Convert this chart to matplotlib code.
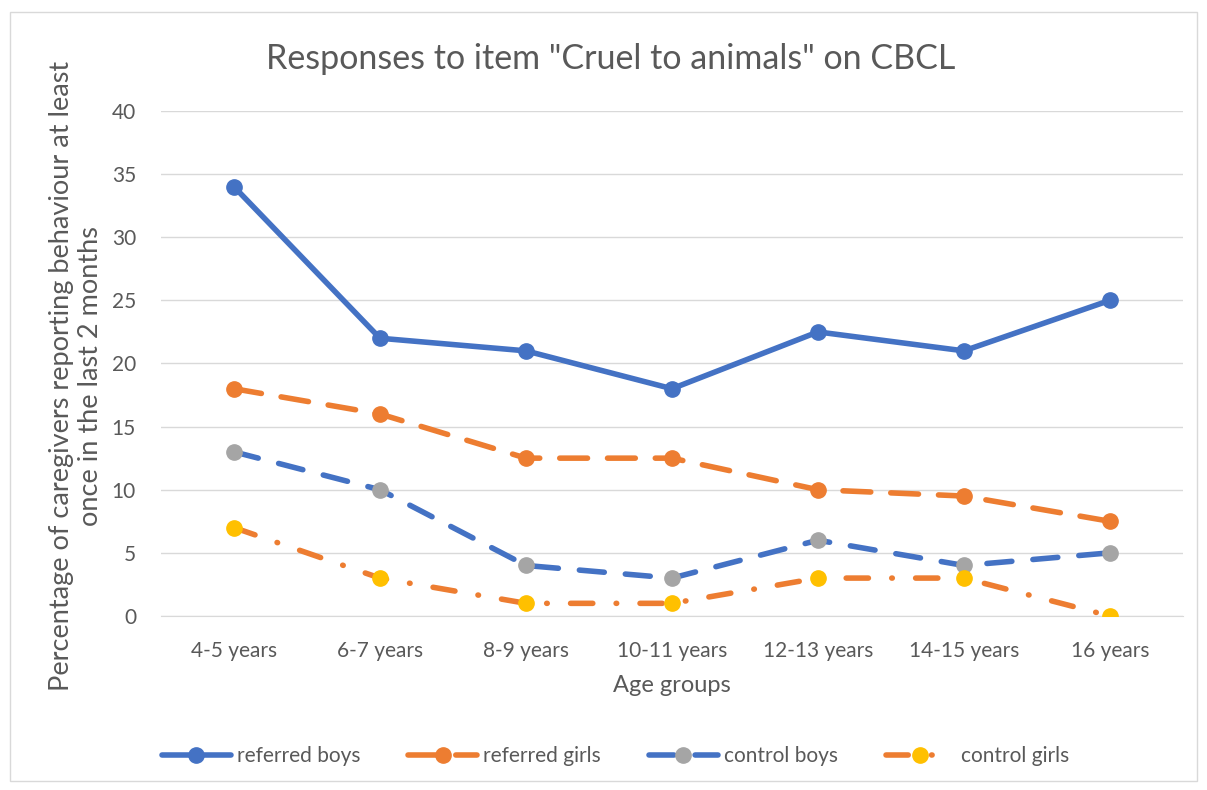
import numpy as np
import matplotlib.pyplot as plt
from matplotlib.patches import Rectangle

plt.rcParams['font.family'] = ['Lato', 'DejaVu Sans']

ages = ['4-5 years', '6-7 years', '8-9 years', '10-11 years', '12-13 years', '14-15 years', '16 years']
referred_boys = [34, 22, 21, 18, 22.5, 21, 25]
referred_girls = [18, 16, 12.5, 12.5, 10, 9.5, 7.5]
control_boys = [13, 10, 4, 3, 6, 4, 5]
control_girls = [7, 3, 1, 1, 3, 3, 0]

blue = '#4472C4'
orange = '#ED7D31'
gray = '#A5A5A5'
yellow = '#FFC000'
txt = '#595959'

fig = plt.figure(figsize=(12.07, 7.9), dpi=100)
ax = fig.add_axes([0.1334, 0.2203, 0.8466, 0.6392])

# chart border like the excel frame
fig.patches.append(Rectangle((0.008, 0.012), 0.984, 0.973, transform=fig.transFigure,
                             fill=False, edgecolor='#D9D9D9', lw=1))

x = np.arange(len(ages))
lw = 4.0
ms = 11

ax.plot(x, referred_boys, color=blue, lw=lw, marker='o', ms=ms,
        mfc=blue, mec=blue, solid_capstyle='round', label='referred boys')
ax.plot(x, referred_girls, color=orange, lw=lw, marker='o', ms=ms,
        mfc=orange, mec=orange, dashes=(5, 3.6), dash_capstyle='round',
        label='referred girls')
ax.plot(x, control_boys, color=blue, lw=lw, marker='o', ms=ms,
        mfc=gray, mec=gray, dashes=(4.5, 3.8), dash_capstyle='round',
        label='control boys')
ax.plot(x, control_girls, color=orange, lw=lw, marker='o', ms=ms,
        mfc=yellow, mec=yellow, dashes=(4, 4.2, 0.1, 4.2), dash_capstyle='round',
        label='control girls')

ax.set_xlim(-0.5, len(ages) - 0.5)
ax.set_ylim(0, 40)
ax.set_yticks(range(0, 41, 5))
ax.set_xticks(x)
ax.set_xticklabels(ages)
ax.tick_params(length=0, labelsize=15, colors=txt)
ax.tick_params(axis='x', pad=18)
ax.tick_params(axis='y', pad=18)
ax.grid(axis='y', color='#D9D9D9', lw=1)
ax.set_axisbelow(True)
for s in ['top', 'right', 'left']:
    ax.spines[s].set_visible(False)
ax.spines['bottom'].set_color('#D9D9D9')
ax.spines['bottom'].set_zorder(0)

ax.set_xlabel('Age groups', fontsize=17, color=txt, labelpad=10)
ax.set_ylabel('Percentage of caregivers reporting behaviour at least\nonce in the last 2 months',
              fontsize=19.5, color=txt, linespacing=1.2)
ax.yaxis.set_label_coords(-0.057, 0.475)
fig.text(0.506, 0.925, 'Responses to item "Cruel to animals" on CBCL',
         ha='center', va='center', fontsize=24.5, color=txt)

leg = fig.legend(loc='center', bbox_to_anchor=(0.51, 0.043), ncol=4, frameon=False,
                 fontsize=15, handlelength=3.3, columnspacing=2.3, handletextpad=0.3)
for t in leg.get_texts():
    t.set_color(txt)

fig.savefig('out.png', dpi=100)
